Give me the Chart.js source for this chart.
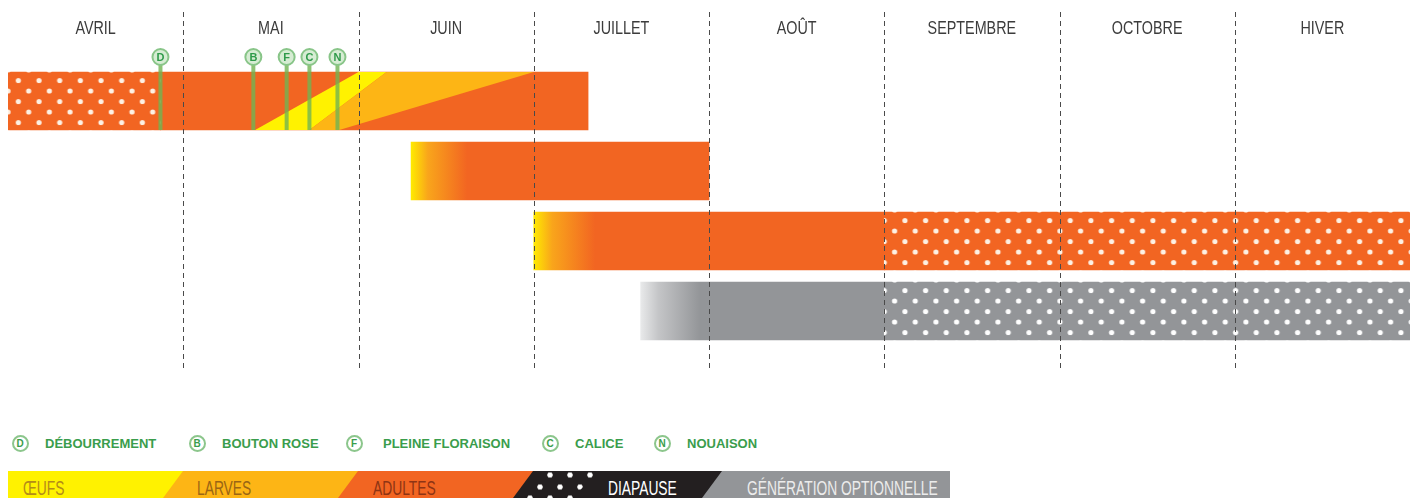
<!DOCTYPE html>
<html lang="fr">
<head>
<meta charset="utf-8">
<title>Cycle de vie</title>
<script src="https://cdn.jsdelivr.net/npm/chart.js@4.4.1/dist/chart.umd.min.js"></script>
<style>
  body { margin: 0; background: #fff; }
  #wrap { position: relative; width: 1411px; height: 498px; overflow: hidden; font-family: "Liberation Sans", Arial, sans-serif; }
  #chartBox { position: absolute; left: 0; top: 0; width: 1411px; height: 380px; }
  .stage { position: absolute; top: 434px; height: 18px; display: flex; align-items: center; }
  .stage .pin { width: 13px; height: 13px; border: 2px solid #8cc68c; border-radius: 50%; background: #fff;
    color: #3a9d4c; font-weight: bold; font-size: 10px; line-height: 13px; text-align: center; margin-left: -8.5px; }
  .stage .name { position: absolute; color: #3a9d4c; font-weight: bold; font-size: 13px; white-space: nowrap; }
  .seg { position: absolute; top: 471px; height: 27px; }
  .phase { position: absolute; top: 478px; font-family: "Liberation Sans", Arial, sans-serif;
    font-size: 20px; line-height: 20px; white-space: nowrap; transform: scaleX(0.69); transform-origin: 0 0; }
</style>
</head>
<body>
<div id="wrap">
  <div id="chartBox"><canvas id="cycle"></canvas></div>
</div>
<script>
const months = ['AVRIL', 'MAI', 'JUIN', 'JUILLET', 'AOÛT', 'SEPTEMBRE', 'OCTOBRE', 'HIVER'];
const rows = ['Génération hivernante', 'Génération 1', 'Génération 2', 'Génération optionnelle'];

// x unit = mois (0 = début avril, 8 = fin hiver)
const diapause = [[0, 0.87], null, [5.0, 8.0], [5.0, 8.0]];
const adultes = [[0.87, 3.31], [2.30, 4.0], [3.0, 5.0], null];
const optionnelle = [null, null, null, [3.61, 5.0]];
const emergence = [0, 0.32, 0.35, 0.34]; // durée du fondu d'apparition

// oeufs et larves de la première ligne : [mois, 0 = bas / 1 = haut]
const oeufs = [[1.41, 0], [2.0, 1], [2.16, 1], [1.72, 0]];
const larves = [[1.72, 0], [2.16, 1], [3.0, 1], [1.89, 0]];

const stageLetters = ['D', 'B', 'F', 'C', 'N'];
const stageNames = ['DÉBOURREMENT', 'BOUTON ROSE', 'PLEINE FLORAISON', 'CALICE', 'NOUAISON'];
const stageDates = [0.87, 1.40, 1.59, 1.72, 1.88];

const phaseNames = ['ŒUFS', 'LARVES', 'ADULTES', 'DIAPAUSE', 'GÉNÉRATION OPTIONNELLE'];

const ORANGE = '#f26522', YELLOW = '#fff200', AMBER = '#fdb515', GREY = '#939598', BLACK = '#231f20';
const BAR = 58;

function dotTile(bg, dot) {
  const c = document.createElement('canvas');
  c.width = 62; c.height = 21;
  const g = c.getContext('2d');
  g.fillStyle = bg; g.fillRect(0, 0, 62, 21);
  g.fillStyle = dot;
  const pts = [[0, 8.5], [20.67, 8.5], [41.33, 8.5], [10.33, 19], [31, 19], [51.67, 19]];
  pts.forEach(([px, py]) => {
    [-62, 0, 62].forEach(dx => [-21, 0, 21].forEach(dy => {
      g.beginPath(); g.arc(px + dx, py + dy, 2.6, 0, Math.PI * 2); g.fill();
    }));
  });
  return c;
}
const tiles = { orange: dotTile(ORANGE, '#fdf1e4'), grey: dotTile(GREY, '#ffffff') };

function dotFill(c) {
  const chart = c.chart, raw = c.raw;
  const grey = c.dataIndex === 3;
  if (!chart.chartArea || !raw) return grey ? GREY : ORANGE;
  const x0 = chart.scales.x.getPixelForValue(raw[0]);
  const y0 = chart.scales.y.getPixelForValue(c.dataIndex) - BAR / 2;
  const p = chart.ctx.createPattern(grey ? tiles.grey : tiles.orange, 'repeat');
  const phase = c.dataIndex === 0 ? -10.33 : 0;
  p.setTransform(new DOMMatrix([1, 0, 0, 1, x0 + phase, y0]));
  return p;
}

function fadeFill(c, from, to) {
  const chart = c.chart, raw = c.raw;
  const len = emergence[c.dataIndex];
  if (!chart.chartArea || !raw || !len) return to;
  const x = chart.scales.x;
  const x0 = x.getPixelForValue(raw[0]);
  const x1 = x.getPixelForValue(raw[0] + len);
  const g = chart.ctx.createLinearGradient(x0, 0, x1, 0);
  from.forEach((col, i) => g.addColorStop(i / from.length * 0.6, col));
  g.addColorStop(1, to);
  return g;
}

// libellés des mois, en police étroite
const monthLabels = {
  id: 'monthLabels',
  afterDraw(chart) {
    const { ctx, chartArea, scales: { x } } = chart;
    ctx.save();
    ctx.fillStyle = '#3c3c3c';
    ctx.font = '17.5px "Liberation Sans", Arial, sans-serif';
    ctx.textAlign = 'center';
    ctx.textBaseline = 'middle';
    x.ticks.forEach((t, i) => {
      ctx.save();
      ctx.translate(x.getPixelForValue(t.value), chartArea.top - 37);
      ctx.scale(0.82, 1);
      ctx.fillText(months[i], 0, 0);
      ctx.restore();
    });
    ctx.restore();
  }
};

const wedges = {
  id: 'wedges',
  afterDatasetsDraw(chart) {
    const { ctx, scales: { x, y } } = chart;
    const mid = y.getPixelForValue(0);
    const py = f => mid + BAR / 2 - f * BAR;
    [[oeufs, YELLOW], [larves, AMBER]].forEach(([poly, col]) => {
      ctx.save();
      ctx.fillStyle = col;
      ctx.beginPath();
      poly.forEach(([m, f], i) => {
        const px = x.getPixelForValue(m);
        i ? ctx.lineTo(px, py(f)) : ctx.moveTo(px, py(f));
      });
      ctx.closePath(); ctx.fill();
      ctx.restore();
    });
  }
};

const monthLines = {
  id: 'monthLines',
  afterDatasetsDraw(chart) {
    const { ctx, chartArea, scales: { x } } = chart;
    ctx.save();
    ctx.strokeStyle = '#4a4a4a';
    ctx.lineWidth = 1;
    ctx.setLineDash([5, 4]);
    for (let m = 1; m < months.length; m++) {
      const px = Math.round(x.getPixelForValue(m)) + 0.5;
      ctx.beginPath();
      ctx.moveTo(px, chartArea.top - 54);
      ctx.lineTo(px, chartArea.bottom + 22);
      ctx.stroke();
    }
    ctx.restore();
  }
};

const stagePins = {
  id: 'stagePins',
  afterDatasetsDraw(chart) {
    const { ctx, chartArea, scales: { x, y } } = chart;
    const cy = chartArea.top - 9;
    const bottom = y.getPixelForValue(0) + BAR / 2;
    stageDates.forEach((d, i) => {
      const px = x.getPixelForValue(d);
      ctx.save();
      ctx.strokeStyle = 'rgba(112,180,82,0.8)';
      ctx.lineWidth = 4;
      ctx.beginPath(); ctx.moveTo(px, cy); ctx.lineTo(px, bottom); ctx.stroke();
      ctx.beginPath(); ctx.arc(px, cy, 8, 0, Math.PI * 2);
      ctx.fillStyle = '#d6ecd3'; ctx.fill();
      ctx.lineWidth = 2; ctx.strokeStyle = '#88c588'; ctx.stroke();
      ctx.fillStyle = '#2f9a4a';
      ctx.font = 'bold 11px "Liberation Sans", Arial, sans-serif';
      ctx.textAlign = 'center'; ctx.textBaseline = 'middle';
      ctx.fillText(stageLetters[i], px, cy + 0.5);
      ctx.restore();
    });
  }
};

new Chart(document.getElementById('cycle'), {
  type: 'bar',
  data: {
    labels: rows,
    datasets: [
      { label: 'Diapause', data: diapause, backgroundColor: dotFill },
      { label: 'Adultes', data: adultes, backgroundColor: c => fadeFill(c, ['#ffea00', '#f9a51b'], ORANGE) },
      { label: 'Génération optionnelle', data: optionnelle, backgroundColor: c => fadeFill(c, ['#e8e9ea', '#c4c5c7'], GREY) }
    ].map(ds => Object.assign(ds, { grouped: false, barThickness: BAR, borderWidth: 0 }))
  },
  options: {
    indexAxis: 'y',
    responsive: true,
    maintainAspectRatio: false,
    animation: false,
    layout: { padding: { left: 8, right: 1, top: 0, bottom: 34 } },
    plugins: { legend: { display: false }, tooltip: { enabled: false } },
    scales: {
      x: {
        type: 'linear',
        position: 'top',
        min: 0,
        max: months.length,
        grid: { display: false, drawTicks: false },
        border: { display: false },
        afterBuildTicks: s => { s.ticks = months.map((m, i) => ({ value: i + 0.5 })); },
        afterFit: s => { s.height = 66; },
        ticks: { display: false, autoSkip: false }
      },
      y: { display: false, offset: true }
    }
  },
  plugins: [wedges, monthLines, stagePins, monthLabels]
});

// légende des stades phénologiques
const wrap = document.getElementById('wrap');
const pinX = [20, 197, 354, 550, 662];
stageLetters.forEach((l, i) => {
  const d = document.createElement('div');
  d.className = 'stage';
  d.style.left = pinX[i] + 'px';
  d.innerHTML = '<div class="pin">' + l + '</div><div class="name" style="left:' +
    (i === 2 ? 29 : 25) + 'px">' + stageNames[i] + '</div>';
  wrap.appendChild(d);
});

// bande des phases
const edges = [8, 183, 358, 533, 722, 950];
const phaseColors = [YELLOW, AMBER, ORANGE, BLACK, GREY];
const textColors = ['#b48c18', '#9a6514', '#8e3414', '#ffffff', '#ececec'];
const textX = [23, 197, 373, 608, 747];
const slant = 20;
phaseNames.forEach((name, i) => {
  const seg = document.createElement('div');
  seg.className = 'seg';
  const left = i ? edges[i] - slant : edges[0];
  seg.style.left = left + 'px';
  seg.style.width = (edges[edges.length - 1] - left) + 'px';
  seg.style.background = phaseColors[i];
  if (i) seg.style.clipPath = 'polygon(' + slant + 'px 0, 100% 0, 100% 100%, 0 100%)';
  wrap.appendChild(seg);
  if (i === 3) {
    const dots = document.createElement('div');
    dots.className = 'seg';
    dots.style.left = '520px';
    dots.style.width = '80px';
    dots.style.background =
      'radial-gradient(circle, #fff 2.4px, transparent 3px) 20px -7.5px / 20px 23px,' +
      'radial-gradient(circle, #fff 2.4px, transparent 3px) 10px 4.5px / 20px 23px';
    dots.style.clipPath = 'polygon(25px 0, 78px 0, 53px 100%, 0 100%)';
    wrap.appendChild(dots);
  }
});
phaseNames.forEach((name, i) => {
  const t = document.createElement('span');
  t.className = 'phase';
  t.style.left = textX[i] + 'px';
  t.style.color = textColors[i];
  t.textContent = name;
  wrap.appendChild(t);
});
</script>
</body>
</html>
